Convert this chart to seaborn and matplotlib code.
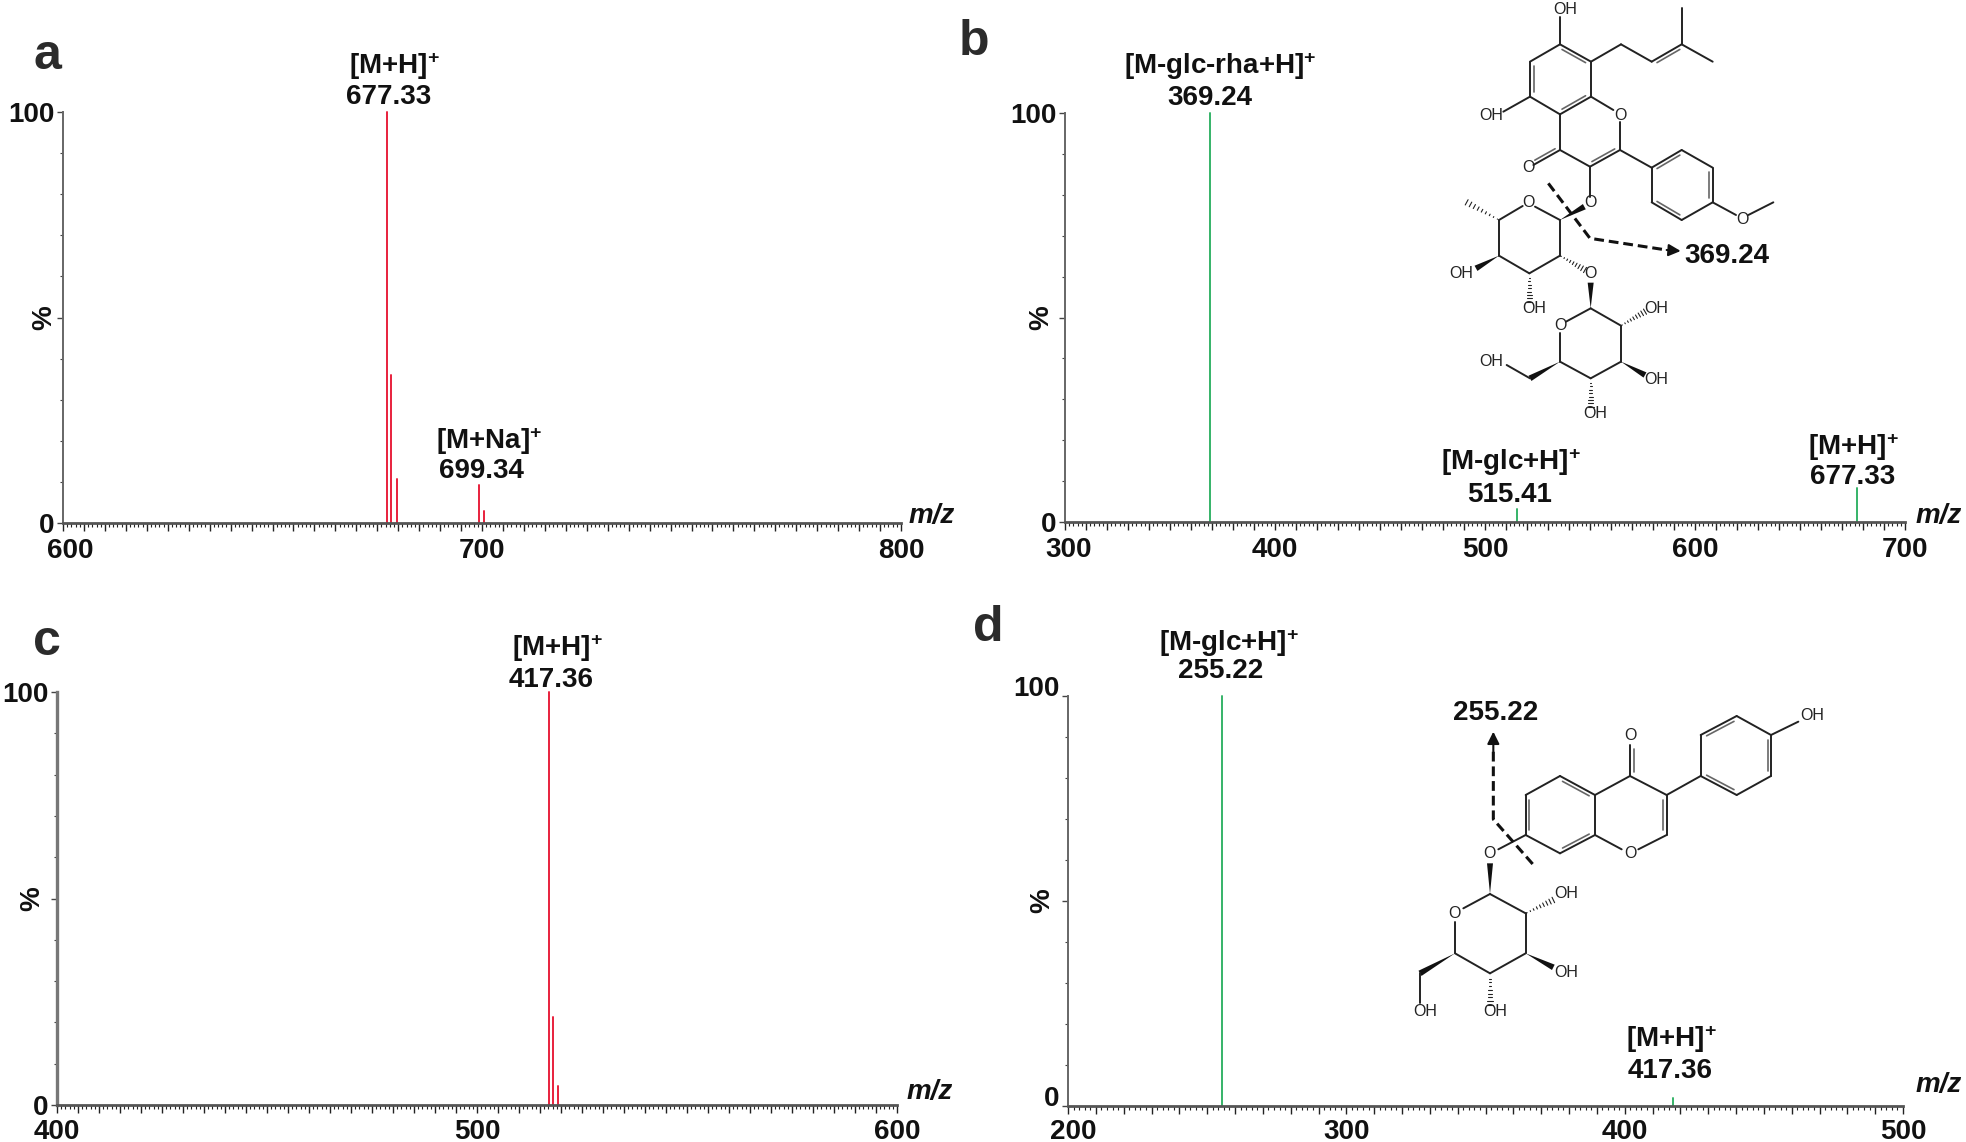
import matplotlib
matplotlib.use("Agg")
import matplotlib.pyplot as plt
import numpy as np
import pandas as pd
import seaborn as sns
from matplotlib.patches import Polygon
from matplotlib.transforms import ScaledTranslation

W, H = 1966, 1142
RED = "#e8203c"
GREEN = "#35b368"
TEXT = "#111111"

# spectra
a_mz = [677.33, 678.4, 679.6, 699.34, 700.4]
a_int = [100, 36, 10.8, 9.3, 3]
b_mz = [369.24, 515.41, 677.33]
b_int = [100, 3.3, 8.3]
c_mz = [517.1, 518.1, 519.2]
c_int = [100, 21.3, 4.6]
d_mz = [255.22, 417.36]
d_int = [100, 2]

a_ticks = [600, 700, 800]
b_ticks = [300, 400, 500, 600, 700]
c_ticks = [400, 500, 600]
d_ticks = [200, 300, 400, 500]

# panel name, mz, intensity, colour, hundreds, tick step, minor step, axes box in px,
# % label offset, shift of first x label, shift of y labels, x label pad
panels = [
    ("a", a_mz, a_int, RED, a_ticks, 5, 1, (63, 112, 901, 523), 16, 7, 0, 5.5),
    ("b", b_mz, b_int, GREEN, b_ticks, 10, 2, (1065, 113, 1905, 522), 11, 4, 0, 5.5),
    ("c", c_mz, c_int, RED, c_ticks, 5, 1, (57, 692, 897, 1105), 10, 0, 0, 4.5),
    ("d", d_mz, d_int, GREEN, d_ticks, 10, 2, (1068, 696, 1903, 1106), 9, 5, 10, 4),
]

# text placed in image pixels: string, x, y
peak_labels = [
    ("[M+H]$^{+}$", 394, 66), ("677.33", 389, 97),
    ("[M+Na]$^{+}$", 489, 441), ("699.34", 481, 471),
    ("[M-glc-rha+H]$^{+}$", 1220, 66), ("369.24", 1210, 98),
    ("[M-glc+H]$^{+}$", 1511, 462), ("515.41", 1510, 495),
    ("[M+H]$^{+}$", 1853, 447), ("677.33", 1853, 477),
    ("[M+H]$^{+}$", 557, 648), ("417.36", 551, 680),
    ("[M-glc+H]$^{+}$", 1229, 643), ("255.22", 1221, 671),
    ("[M+H]$^{+}$", 1671, 1039), ("417.36", 1670, 1071),
    ("369.24", 1727, 256), ("255.22", 1496, 713),
]
mz_labels = [(932, 516), (1939, 516), (930, 1092), (1939, 1085)]
panel_letters = [("a", 47, 56), ("b", 974, 42), ("c", 47, 642), ("d", 988, 628)]

# flavonol glycoside of panel b, crop coordinates (origin 1400, 0, 3x)
flav_origin = (1400, 0)
flav_single = [
    [(480, 133), (480, 50)], [(573, 185), (573, 290)], [(480, 343), (390, 290)],
    [(390, 185), (480, 133)], [(390, 290), (310, 335)], [(573, 290), (640, 330)],
    [(660, 365), (660, 450)], [(570, 500), (480, 450)], [(480, 343), (480, 450)],
    [(570, 500), (570, 590)], [(573, 185), (663, 133)], [(663, 133), (755, 185)],
    [(845, 133), (845, 25)], [(845, 133), (938, 185)], [(660, 450), (755, 503)],
    [(845, 450), (938, 503)], [(938, 607), (845, 660)], [(755, 607), (755, 503)],
    [(938, 607), (1008, 645)], [(1045, 645), (1120, 607)],
    [(297, 660), (368, 618)], [(405, 620), (480, 660)], [(480, 660), (480, 767)],
    [(480, 767), (388, 820)], [(388, 820), (297, 767)], [(297, 767), (297, 660)],
    [(572, 925), (498, 965)], [(480, 1000), (480, 1085)], [(480, 1085), (572, 1135)],
    [(572, 1135), (663, 1085)], [(663, 1085), (663, 977)], [(663, 977), (572, 925)],
    [(390, 1135), (320, 1095)],
]
flav_double = [
    [(480, 133), (573, 185), (480, 238)], [(573, 290), (480, 343), (480, 238)],
    [(390, 290), (390, 185), (480, 238)], [(660, 450), (570, 500), (570, 400)],
    [(480, 450), (400, 495), (400, 420)], [(755, 185), (845, 133), (850, 200)],
    [(755, 503), (845, 450), (845, 555)], [(938, 503), (938, 607), (845, 555)],
    [(845, 660), (755, 607), (845, 555)],
]
flav_wedge = [
    [(297, 767), (228, 805)], [(480, 660), (553, 620)], [(572, 925), (572, 848)],
    [(663, 1085), (735, 1125)], [(480, 1085), (390, 1135)],
]
flav_hash = [
    [(297, 660), (200, 607)], [(388, 820), (388, 905)], [(480, 767), (555, 810)],
    [(663, 977), (735, 935)], [(572, 1135), (572, 1220)],
]
flav_atoms = [
    ("OH", 495, 28), ("OH", 275, 345), ("O", 660, 345), ("O", 385, 503),
    ("O", 570, 607), ("O", 1027, 660), ("O", 385, 607), ("OH", 183, 820),
    ("OH", 403, 925), ("O", 570, 820), ("O", 480, 977), ("OH", 770, 925),
    ("OH", 770, 1137), ("OH", 587, 1242), ("OH", 275, 1083),
]
flav_cut = [(445, 550), (570, 715), (800, 750)]
flav_tip = (842, 753)

# isoflavone glucoside of panel d, crop coordinates (origin 1380, 690, 3x)
iso_origin = (1380, 690)
iso_single = [
    [(1173, 135), (1255, 95)], [(1070, 78), (1173, 135)], [(962, 135), (962, 258)],
    [(1173, 258), (1070, 315)], [(962, 258), (860, 315)], [(860, 315), (750, 258)],
    [(750, 258), (645, 315)], [(860, 435), (775, 478)], [(725, 478), (645, 435)],
    [(645, 435), (645, 315)], [(540, 258), (437, 315)], [(437, 435), (540, 490)],
    [(437, 435), (355, 478)], [(330, 612), (437, 670)], [(437, 670), (437, 790)],
    [(437, 790), (330, 850)], [(330, 850), (225, 790)], [(225, 790), (225, 695)],
    [(330, 612), (250, 655)], [(120, 850), (120, 940)],
]
iso_double = [
    [(962, 135), (1070, 78), (1070, 195)], [(1173, 135), (1173, 258), (1070, 195)],
    [(962, 258), (1070, 315), (1070, 195)], [(750, 258), (750, 165), (800, 210)],
    [(860, 315), (860, 435), (750, 375)], [(645, 315), (540, 258), (540, 375)],
    [(437, 315), (437, 435), (540, 375)], [(540, 490), (645, 435), (540, 375)],
]
iso_wedge = [
    [(330, 612), (330, 520)], [(437, 790), (520, 832)],
    [(225, 790), (120, 850)],
]
iso_hash = [[(437, 670), (520, 630)], [(330, 850), (330, 945)]]
iso_atoms = [
    ("OH", 1297, 78), ("O", 750, 137), ("O", 750, 492), ("O", 328, 492),
    ("O", 222, 670), ("OH", 560, 610), ("OH", 560, 848), ("OH", 347, 965),
    ("OH", 137, 965),
]
iso_cut = [(458, 522), (340, 388), (340, 185)]
iso_tip = (340, 125)


def draw_molecule(ov, origin, single, double, wedge, hashed, atoms, cut, tip):
    def to_px(p):
        return np.array([origin[0] + p[0] / 3, origin[1] + p[1] / 3])

    for p, q in single:
        p, q = to_px(p), to_px(q)
        ov.plot([p[0], q[0]], [p[1], q[1]], color="#222222", lw=1.4, solid_capstyle="round")
    for p, q, c in double:
        p, q, c = to_px(p), to_px(q), to_px(c)
        ov.plot([p[0], q[0]], [p[1], q[1]], color="#222222", lw=1.4, solid_capstyle="round")
        # inner line, shifted towards the ring centre and a bit shorter
        d = q - p
        n = np.array([-d[1], d[0]]) / np.hypot(*d)
        if np.dot(c - p, n) < 0:
            n = -n
        a, b = p + d * 0.12 + n * 3.5, q - d * 0.12 + n * 3.5
        ov.plot([a[0], b[0]], [a[1], b[1]], color="#666666", lw=1.2)
    for p, q in wedge:
        p, q = to_px(p), to_px(q)
        d = q - p
        n = np.array([-d[1], d[0]]) / np.hypot(*d)
        ov.add_patch(Polygon([p, q + n * 3, q - n * 3], color="#111111", lw=0))
    for p, q in hashed:
        p, q = to_px(p), to_px(q)
        d = q - p
        n = np.array([-d[1], d[0]]) / np.hypot(*d)
        for t in np.linspace(0.05, 1, 9):
            m = p + d * t
            ov.plot([m[0] - n[0] * 3 * t, m[0] + n[0] * 3 * t],
                    [m[1] - n[1] * 3 * t, m[1] + n[1] * 3 * t], color="#222222", lw=0.8)
    for s, x, y in atoms:
        x, y = to_px((x, y))
        ov.text(x, y, s, fontsize=11.5, color="#222222", ha="center", va="center")
    pts = np.array([to_px(p) for p in cut])
    ov.plot(pts[:, 0], pts[:, 1], color="#111111", lw=2.2, dashes=(3.2, 1.6))
    ov.annotate("", xy=to_px(tip), xytext=pts[-1],
                arrowprops=dict(arrowstyle="-|>", color="#111111", lw=1.5, mutation_scale=18,
                                shrinkA=0, shrinkB=0))


sns.set_theme(style="ticks")
plt.rcParams["font.family"] = ["Liberation Sans", "DejaVu Sans"]
plt.rcParams["mathtext.default"] = "regular"

fig = plt.figure(figsize=(W / 100, H / 100), dpi=100)

for name, mz, intensity, colour, hundreds, step, minor, box, pct_dx, first_dx, y_up, pad in panels:
    l, t, r, b = box
    ax = fig.add_axes([l / W, 1 - b / H, (r - l) / W, (b - t) / H])
    sticks = pd.DataFrame({
        "mz": np.repeat(mz, 2),
        "intensity": np.column_stack([np.zeros(len(intensity)), intensity]).ravel(),
        "peak": np.repeat(np.arange(len(mz)), 2),
    })
    sns.lineplot(data=sticks, x="mz", y="intensity", units="peak", estimator=None,
                 color=colour, lw=1.4, ax=ax, legend=False, clip_on=False)
    x0, x1 = hundreds[0], hundreds[-1]
    ax.set_xlim(x0, x1)
    ax.set_ylim(0, 100)
    major = np.arange(x0, x1 + 1, step)
    ax.set_xticks(major, labels=[str(v) if v in hundreds else "" for v in major],
                  fontsize=20, fontweight="bold", color=TEXT)
    ax.set_xticks(np.arange(x0, x1 + 1, minor), minor=True)
    ax.set_yticks([0, 50, 100], labels=["0", "", "100"], fontsize=20, fontweight="bold", color=TEXT)
    ax.set_yticks(np.arange(0, 101, 10), minor=True)
    ax.tick_params(axis="x", which="major", length=5.5, width=1.0, color="#222222", pad=pad)
    ax.tick_params(axis="x", which="minor", length=3, width=0.8, color="#222222")
    ax.tick_params(axis="y", which="major", length=4, width=1.0, color="#444444", pad=2)
    ax.tick_params(axis="y", which="minor", length=2.5, width=0.8, color="#444444")
    ax.set_xlabel("")
    ax.set_ylabel("%", fontsize=20, fontweight="bold", color=TEXT)
    ax.yaxis.set_label_coords(-(22 - pct_dx) / (r - l), 0.5)
    # a few labels in the figure sit off their ticks
    first = ax.get_xticklabels()[0]
    first.set_transform(first.get_transform() + ScaledTranslation(first_dx / 100, 0, fig.dpi_scale_trans))
    for lab in ax.get_yticklabels():
        lab.set_transform(lab.get_transform() + ScaledTranslation(0, y_up / 100, fig.dpi_scale_trans))
    sns.despine(ax=ax)
    ax.spines["left"].set_color("#777777" if name == "c" else "#666666")
    ax.spines["bottom"].set_color("#555555")
    ax.spines["left"].set_linewidth(2.4 if name == "c" else 1.4)
    ax.spines["bottom"].set_linewidth(2)
    ax.patch.set_alpha(0)

# overlay in image pixels for labels and structures
ov = fig.add_axes([0, 0, 1, 1])
ov.set_xlim(0, W)
ov.set_ylim(H, 0)
ov.axis("off")

for s, x, y in peak_labels:
    ov.text(x, y, s, fontsize=20, fontweight="bold", color=TEXT, ha="center", va="center")
for x, y in mz_labels:
    ov.text(x, y, "m/z", fontsize=20, fontweight="bold", fontstyle="italic", color=TEXT,
            ha="center", va="center")
for s, x, y in panel_letters:
    ov.text(x, y, s, fontsize=36, fontweight="bold", color="#2b2b2b", ha="center", va="center")

draw_molecule(ov, flav_origin, flav_single, flav_double, flav_wedge, flav_hash,
              flav_atoms, flav_cut, flav_tip)
draw_molecule(ov, iso_origin, iso_single, iso_double, iso_wedge, iso_hash,
              iso_atoms, iso_cut, iso_tip)

fig.savefig("out.png", dpi=100)
